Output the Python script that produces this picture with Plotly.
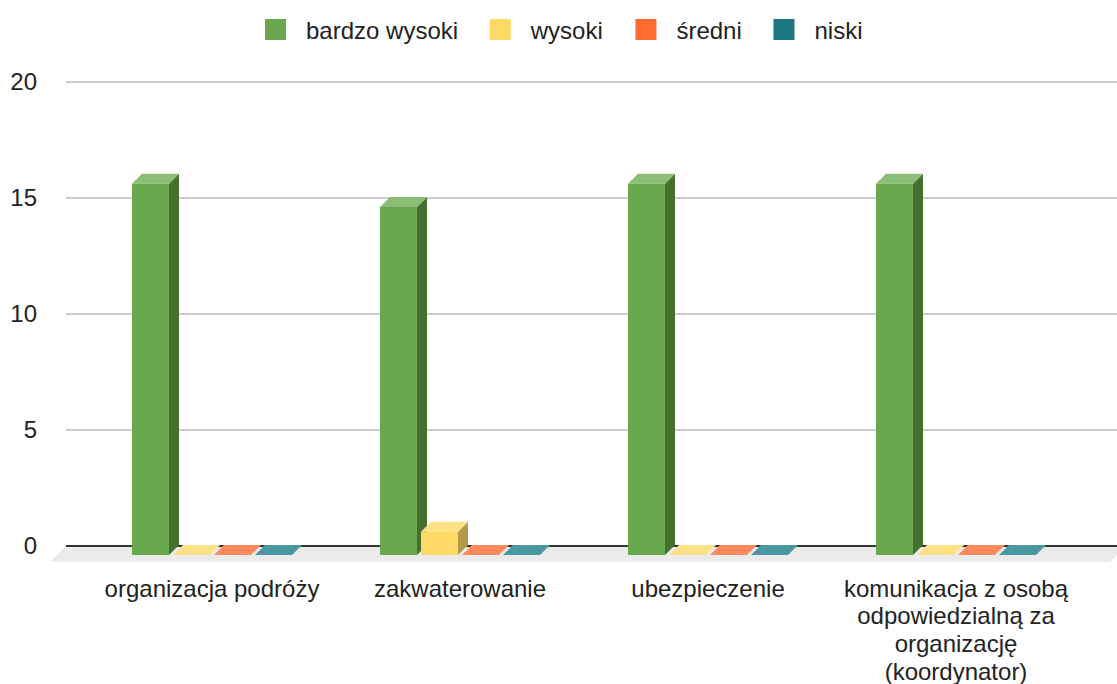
import plotly.graph_objects as go

# ---------------- data ----------------
categories = [
    "organizacja podróży",
    "zakwaterowanie",
    "ubezpieczenie",
    "komunikacja z osobą odpowiedzialną za organizację (koordynator)",
]
tick_labels = [
    "organizacja podróży",
    "zakwaterowanie",
    "ubezpieczenie",
    "komunikacja z osobą<br>odpowiedzialną za<br>organizację<br>(koordynator)",
]
series_names = ["bardzo wysoki", "wysoki", "średni", "niski"]
bardzo_wysoki = [16, 15, 16, 16]
wysoki = [0, 1, 0, 0]
sredni = [0, 0, 0, 0]
niski = [0, 0, 0, 0]
y_ticks = [0, 5, 10, 15, 20]

series_values = [bardzo_wysoki, wysoki, sredni, niski]
front_colors = ["#6aa84f", "#ffd966", "#ff6d2e", "#1e7683"]
top_colors = ["#8cbd76", "#ffe185", "#ff8b5c", "#4a98a3"]
side_colors = ["#47702f", "#b39a47", "#b34c20", "#14535c"]

# ---------------- geometry (pixels -> fractions) ----------------
W, H = 1117, 684
FONT = "Liberation Sans, Arial, sans-serif"
TXT = "#222222"

def px(x):
    return x / W

def py(y):
    return 1 - y / H

cat_px = 248.0          # pixels per category
unit_px = 23.2          # pixels per value unit
front_left, front_right = 88, 88 + 4 * cat_px
front_zero, front_top = 555, 555 - 20 * unit_px
back_zero = 546
pad = 0.5               # value units of slack around the back wall range

depth_x = 10 / cat_px   # 3D depth in category units
depth_y = 10 / unit_px  # 3D depth in value units
bar_w = 37 / cat_px
slot = 41 / cat_px
group_left = -80 / cat_px

xs = list(range(len(categories)))

fig = go.Figure()

# back wall subplot needs a (blank) trace so its grid is drawn
fig.add_trace(go.Scatter(x=[None], y=[None], mode="markers", showlegend=False,
                         hoverinfo="skip", xaxis="x", yaxis="y"))

# faces (tops and sides) drawn in subplot 2, under the fronts
for j, vals in enumerate(series_values):
    off = group_left + j * slot
    sx, sy, tx, ty = [], [], [], []
    for i, v in zip(xs, vals):
        x0 = i + off
        x1 = x0 + bar_w
        if v > 0:
            sx += [x1, x1 + depth_x, x1 + depth_x, x1, x1, None]
            sy += [0, depth_y, v + depth_y, v, 0, None]
        tx += [x0, x1, x1 + depth_x, x0 + depth_x, x0, None]
        ty += [v, v, v + depth_y, v + depth_y, v, None]
    if sx:
        fig.add_trace(go.Scatter(x=sx, y=sy, mode="lines", fill="toself",
                                 fillcolor=side_colors[j], line=dict(width=0),
                                 hoverinfo="skip", showlegend=False,
                                 xaxis="x2", yaxis="y2"))
    fig.add_trace(go.Scatter(x=tx, y=ty, mode="lines", fill="toself",
                             fillcolor=top_colors[j], line=dict(width=0),
                             hoverinfo="skip", showlegend=False,
                             xaxis="x2", yaxis="y2"))

# front faces as real bars in subplot 3
for j, (name, vals) in enumerate(zip(series_names, series_values)):
    fig.add_trace(go.Bar(x=xs, y=vals, name=name, width=bar_w,
                         offset=group_left + j * slot,
                         marker=dict(color=front_colors[j], line=dict(width=0)),
                         showlegend=False, xaxis="x3", yaxis="y3"))

# legend entries
for j, name in enumerate(series_names):
    fig.add_trace(go.Scatter(x=[None], y=[None], mode="markers", name=name + "\u00a0",
                             marker=dict(symbol="square", size=16, color=front_colors[j],
                                         line=dict(color=front_colors[j], width=5)),
                             hoverinfo="skip", xaxis="x3", yaxis="y3"))

# floor
floor_path = "M {a},{b} L {c},{b} L {d},{e} L {f},{e} Z".format(
    a=px(66), b=py(546), c=px(1126), d=px(1110), e=py(562), f=px(50))
fig.add_shape(type="path", path=floor_path, xref="paper", yref="paper",
              fillcolor="#ebebeb", line=dict(width=0), layer="below")

hidden = dict(visible=False, showgrid=False, zeroline=False, fixedrange=True)

fig.update_layout(
    width=W, height=H, autosize=False,
    margin=dict(l=0, r=0, t=0, b=0),
    paper_bgcolor="white", plot_bgcolor="rgba(0,0,0,0)",
    font=dict(family=FONT, size=24, color=TXT),
    barmode="overlay",
    showlegend=True,
    legend=dict(orientation="h", x=560 / W, xanchor="center", y=py(30), yanchor="middle",
                font=dict(family=FONT, size=24, color=TXT), bgcolor="rgba(0,0,0,0)",
                itemwidth=51, traceorder="normal"),
    # back wall: gridlines and y tick labels
    xaxis=dict(domain=[px(66), 1], range=[0, 1], **hidden),
    yaxis=dict(domain=[py(back_zero + pad * unit_px), py(back_zero - (20 + pad) * unit_px)],
               range=[-pad, 20 + pad],
               tickvals=y_ticks, ticktext=[str(t) for t in y_ticks],
               showgrid=True, gridcolor="#cccccc", gridwidth=1.5,
               zeroline=True, zerolinecolor="#333333", zerolinewidth=1.5,
               showline=False, ticks="", ticklabelstandoff=28,
               tickfont=dict(family=FONT, size=24, color=TXT),
               automargin=False, fixedrange=True),
    # 3D faces
    xaxis2=dict(domain=[px(front_left), px(front_right)], range=[-0.5, 3.5], anchor="y2", **hidden),
    yaxis2=dict(domain=[py(front_zero), py(front_top)], range=[0, 20], anchor="x2", **hidden),
    # front faces + category labels
    xaxis3=dict(domain=[px(front_left), px(front_right)], range=[-0.5, 3.5], anchor="y3",
                tickvals=xs,
                ticktext=['<span style="font-size:24px">' + t + "</span>" for t in tick_labels],
                showgrid=False, zeroline=False,
                showline=False, ticks="", ticklabelstandoff=19,
                tickfont=dict(family=FONT, size=21.5, color=TXT),
                automargin=False, fixedrange=True),
    yaxis3=dict(domain=[py(front_zero), py(front_top)], range=[0, 20], anchor="x3", **hidden),
)

fig.write_html("out.html", config={"displayModeBar": False},
               post_script="document.body.style.margin='0';")
